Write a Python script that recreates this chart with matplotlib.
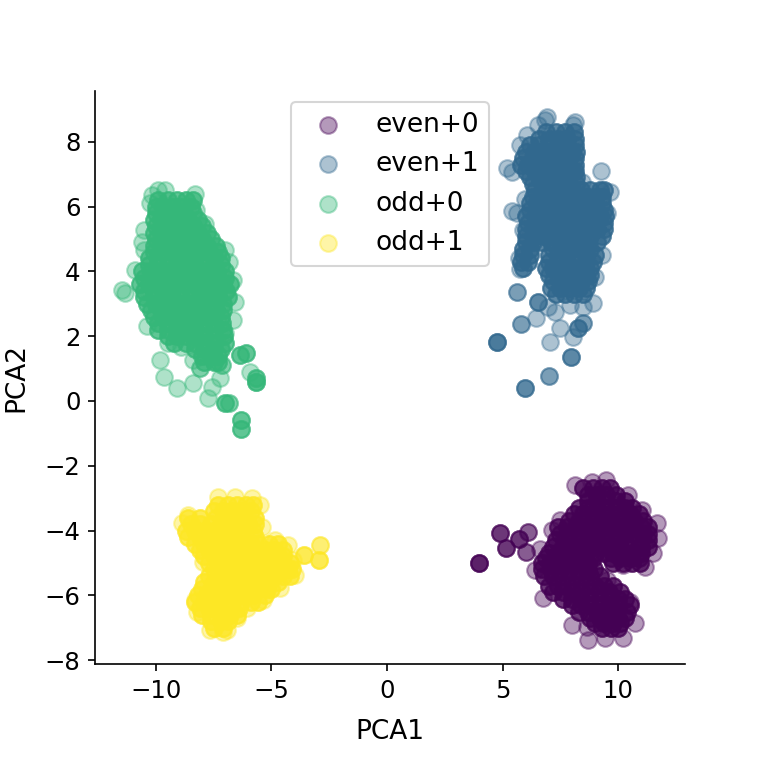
import numpy as np
import matplotlib
matplotlib.use("Agg")
import matplotlib.pyplot as plt

# Estimated positions. Dense interiors are recorded as rows of locations with an
# overplotting count, because individual points cannot be read where they overlap.
labels = ["even+0", "even+1", "odd+0", "odd+1"]
colors = ["#440154", "#31688e", "#35b779", "#fde725"]
core_count = 3

even0_rows_y = [-2.7, -2.9, -3.1, -3.3, -3.5, -3.7, -3.9, -4.1, -4.3, -4.5, -4.7, -4.85, -5.0,
                -5.2, -5.4, -5.7, -5.9, -6.1, -6.3, -6.5, -6.7, -6.85, -7.0]
even0_rows_x = [
    [8.5, 8.9, 9.3, 9.65],
    [8.7, 9.1, 9.5, 9.9],
    [8.7, 9.1, 9.5, 9.9, 10.3],
    [8.3, 8.7, 9.1, 9.5, 9.9, 10.3, 10.6],
    [8.1, 8.5, 8.9, 9.3, 9.7, 10.1, 10.5, 10.9],
    [7.9, 8.3, 8.7, 9.1, 9.5, 9.9, 10.3, 10.7, 11.1],
    [7.4, 7.8, 8.2, 8.6, 9.0, 9.4, 9.8, 10.2, 10.6, 11.0, 11.3],
    [7.5, 7.9, 8.3, 8.7, 9.1, 9.5, 9.9, 10.3, 10.7, 11.1, 11.3],
    [7.3, 7.7, 8.1, 8.5, 8.9, 9.3, 9.7, 10.1, 10.5, 10.9, 11.3],
    [7.2, 7.6, 8.0, 8.4, 8.8, 9.2, 9.6, 10.0, 10.4, 11.0, 11.3],
    [7.0, 7.4, 7.8, 8.2, 8.6, 9.0, 9.4, 9.8, 10.2, 10.6, 11.0],
    [6.9, 7.3, 7.7, 8.1, 8.5, 8.9, 9.7, 10.1, 10.5, 10.9],
    [6.7, 7.1, 7.5, 7.9, 8.3, 8.7, 9.8, 10.2, 10.6, 10.95],
    [6.7, 7.1, 7.5, 7.9, 8.3, 8.7, 8.95],
    [6.8, 7.2, 7.6, 8.0, 8.4, 8.8, 9.2],
    [7.0, 7.4, 7.8, 8.2, 8.6, 9.0, 9.4, 9.8],
    [7.2, 7.6, 8.0, 8.4, 8.8, 9.2, 9.6, 10.1],
    [7.6, 8.0, 8.4, 8.8, 9.2, 9.6, 10.0, 10.3],
    [8.0, 8.4, 8.8, 9.2, 9.6, 10.0, 10.5],
    [8.3, 8.7, 9.1, 9.5, 9.9, 10.4],
    [8.8, 9.2, 9.6, 10.0, 10.3],
    [9.0, 9.4, 9.8, 10.1],
    [9.3, 9.7, 10.0],
]
even0_x = [8.14, 8.86, 9.48, 10.45, 11.02, 11.67, 11.75, 11.53, 11.17, 10.23, 7.49, 7.13,
           6.62, 6.41, 6.77, 8.02, 8.72, 9.44, 10.23, 10.74, 10.52, 9.51, 8.64,
           4.0, 4.0, 4.0, 4.0, 4.89, 4.89, 4.89, 5.15, 5.15, 5.15, 5.73, 5.73, 5.73,
           6.12, 6.12, 6.0, 6.0]
even0_y = [-2.59, -2.49, -2.44, -2.9, -3.36, -3.78, -4.24, -4.7, -5.11, -5.06, -3.67, -3.98,
           -4.57, -5.22, -6.07, -6.91, -7.38, -7.33, -7.33, -6.86, -6.2, -5.53, -6.97,
           -4.99, -4.99, -4.99, -4.99, -4.09, -4.09, -4.09, -4.55, -4.55, -4.55, -4.26, -4.26, -4.26,
           -4.06, -4.06, -4.65, -4.65]

even1_rows_y = [8.3, 8.1, 7.9, 7.7, 7.5, 7.3, 7.1, 6.9, 6.7, 6.5, 6.3, 6.1, 5.9, 5.7, 5.5, 5.3,
                5.1, 4.9, 4.7, 4.5, 4.3, 4.1, 3.9, 3.7, 3.5, 3.3]
even1_rows_x = [
    [6.9, 7.3, 7.7, 8.1],
    [6.6, 7.0, 7.4, 7.8, 8.15],
    [6.2, 6.6, 7.0, 7.4, 7.8, 8.15],
    [6.0, 6.4, 6.8, 7.2, 7.6, 8.0, 8.2],
    [5.9, 6.3, 6.7, 7.1, 7.5, 7.9, 8.15],
    [5.8, 6.1, 6.5, 6.9, 7.3, 7.7, 8.15],
    [6.0, 6.4, 6.8, 7.2, 7.6, 8.0, 8.15],
    [6.2, 6.6, 7.0, 7.4, 7.8, 8.2],
    [6.3, 6.7, 7.1, 7.5, 7.9, 8.2],
    [6.4, 6.8, 7.2, 7.6, 8.0, 8.4, 8.8, 9.2, 9.4],
    [6.3, 6.7, 7.1, 7.5, 7.9, 8.3, 8.7, 9.05, 9.3],
    [6.2, 6.5, 6.9, 7.3, 7.7, 8.1, 8.5, 8.9, 9.3],
    [6.2, 6.6, 7.0, 7.4, 7.8, 8.2, 8.6, 9.0, 9.4],
    [6.0, 6.4, 6.8, 7.2, 7.6, 8.0, 8.4, 8.8, 9.2, 9.45],
    [6.1, 6.5, 6.9, 7.3, 7.7, 8.1, 8.5, 8.9, 9.4],
    [6.0, 6.3, 6.7, 7.1, 7.5, 7.9, 8.3, 8.7, 9.1, 9.4],
    [6.0, 6.4, 6.8, 7.2, 7.6, 8.0, 8.4, 8.8, 9.3],
    [6.0, 6.3, 6.7, 7.1, 7.5, 7.9, 8.3, 8.7, 9.1],
    [5.9, 6.2, 7.2, 7.6, 8.0, 8.4, 8.8],
    [5.9, 6.2, 7.0, 7.4, 7.8, 8.2, 8.6, 9.0],
    [5.8, 6.1, 7.0, 7.4, 7.8, 8.2, 8.6, 8.9],
    [5.9, 6.9, 7.2, 7.6, 8.0, 8.4, 8.8],
    [7.0, 7.4, 7.8, 8.2, 8.6, 8.8],
    [7.2, 7.6, 8.0, 8.4, 8.7],
    [7.1, 7.5, 7.9, 8.3, 8.6],
    [7.3, 7.7, 8.1, 8.5],
]
even1_x = [6.91, 6.84, 8.14, 8.07, 6.55, 6.05, 5.76, 5.18, 5.4, 9.26, 8.43, 9.65, 9.51, 5.4, 5.61,
           5.97, 5.9, 5.7, 5.76, 9.29, 9.0, 8.93, 8.5, 7.92, 7.27, 6.98, 6.44, 7.49, 7.06, 8.07,
           5.64, 5.64, 6.52, 6.52, 6.52, 5.8, 5.8, 4.78, 4.78, 4.78, 4.78, 8.28, 8.28, 8.28,
           8.5, 8.5, 7.95, 7.95, 7.95, 7.01, 7.01, 5.97, 5.97, 5.97]
even1_y = [8.78, 8.67, 8.62, 8.52, 8.52, 8.21, 7.9, 7.18, 7.08, 7.1, 6.77, 6.46, 5.79, 5.86, 5.79,
           6.25, 5.28, 4.4, 4.09, 4.5, 3.84, 3.01, 2.91, 2.96, 2.76, 2.91, 2.55, 2.24, 1.83, 1.98,
           3.37, 3.37, 3.07, 3.07, 3.07, 2.37, 2.37, 1.83, 1.83, 1.83, 1.83, 2.24, 2.24, 2.24,
           2.42, 2.42, 1.35, 1.35, 1.35, 0.77, 0.77, 0.39, 0.39, 0.39]

odd0_rows_y = [6.2, 6.0, 5.8, 5.6, 5.4, 5.2, 5.0, 4.8, 4.6, 4.4, 4.2, 4.0, 3.8, 3.6, 3.4, 3.2,
               3.0, 2.8, 2.6, 2.4, 2.2, 2.0, 1.8, 1.6, 1.4, 1.2]
odd0_rows_x = [
    [-9.9, -9.5, -9.1, -8.7, -8.4],
    [-10.0, -9.7, -9.3, -8.9, -8.5],
    [-10.0, -9.6, -9.2, -8.8, -8.4],
    [-10.1, -9.8, -9.4, -9.0, -8.6, -8.2],
    [-10.0, -9.6, -9.2, -8.8, -8.4, -8.0],
    [-10.1, -9.8, -9.4, -9.0, -8.6, -8.2, -7.8],
    [-10.0, -9.6, -9.2, -8.8, -8.4, -8.0, -7.6],
    [-10.1, -9.8, -9.4, -9.0, -8.6, -8.2, -7.8, -7.4],
    [-10.1, -9.7, -9.3, -8.9, -8.5, -8.1, -7.7, -7.3],
    [-10.3, -9.9, -9.5, -9.1, -8.7, -8.3, -7.9, -7.5, -7.2],
    [-10.3, -9.9, -9.5, -9.1, -8.7, -8.3, -7.9, -7.5, -7.2],
    [-10.6, -10.2, -9.8, -9.4, -9.0, -8.6, -8.2, -7.8, -7.4, -7.0],
    [-10.5, -10.1, -9.7, -9.3, -8.9, -8.5, -8.1, -7.7, -7.3, -7.0],
    [-10.7, -10.3, -9.9, -9.5, -9.1, -8.7, -8.3, -7.9, -7.5, -7.1, -6.8],
    [-10.5, -10.1, -9.7, -9.3, -8.9, -8.5, -8.1, -7.7, -7.3, -6.95],
    [-10.5, -10.1, -9.7, -9.3, -8.9, -8.5, -8.1, -7.7, -7.3, -6.9],
    [-10.4, -10.0, -9.6, -9.2, -8.8, -8.4, -8.0, -7.6, -7.1],
    [-10.2, -9.8, -9.4, -9.0, -8.6, -8.2, -7.8, -7.4, -7.1],
    [-10.1, -9.7, -9.3, -8.9, -8.5, -8.1, -7.7, -7.2],
    [-9.9, -9.5, -9.1, -8.7, -8.3, -7.9, -7.5, -7.15],
    [-9.9, -9.5, -9.1, -8.7, -8.3, -7.9, -7.5, -7.1],
    [-9.5, -9.1, -8.7, -8.3, -7.9, -7.5, -7.05],
    [-9.2, -8.7, -8.3, -7.9, -7.5, -7.0],
    [-8.3, -7.9, -7.5, -7.2],
    [-8.0, -7.6, -7.3],
    [-7.9, -7.5, -7.3],
]
odd0_x = [-9.9, -10.18, -9.6, -8.31, -10.25, -8.25, -7.87, -10.54, -10.6, -10.54, -7.0, -6.86,
          -6.65, -10.9, -11.48, -11.34, -6.58, -6.65, -10.4, -7.0, -9.46, -8.9, -9.82, -9.64,
          -9.07, -8.38, -7.73, -7.59, -7.23, -8.1, -8.1, -7.15, -7.15, -8.38, -5.93,
          -6.36, -6.36, -6.36, -6.1, -6.1, -6.1, -5.68, -5.68, -5.68, -5.68, -5.68, -5.68, -5.68,
          -7.0, -7.0, -7.0, -6.86, -6.86, -6.33, -6.33, -6.33, -6.32, -6.32, -6.32]
odd0_y = [6.5, 6.36, 6.5, 6.39, 6.1, 5.9, 5.46, 5.28, 4.92, 4.66, 4.66, 4.3,
          3.73, 4.04, 3.43, 3.32, 3.07, 2.5, 2.3, 2.09, 1.78, 1.68, 1.26, 0.75,
          0.39, 0.54, 0.08, 0.44, 0.7, 1.01, 1.01, 1.11, 1.11, 1.26, 0.9,
          1.42, 1.42, 1.42, 1.47, 1.47, 1.47, 0.6, 0.6, 0.6, 0.6, 0.7, 0.7, 0.7,
          -0.07, -0.07, -0.07, -0.07, -0.07, -0.59, -0.59, -0.59, -0.85, -0.85, -0.85]

odd1_rows_y = [-3.2, -3.4, -3.6, -3.8, -4.0, -4.2, -4.4, -4.6, -4.8, -5.0, -5.2, -5.4, -5.6,
               -5.8, -6.0, -6.2, -6.4, -6.6, -6.8, -7.0]
odd1_rows_x = [
    [-7.3, -6.9, -6.5, -6.1, -5.8],
    [-7.5, -7.1, -6.7, -6.3, -5.9],
    [-8.6, -8.1, -7.4, -7.0, -6.6, -6.2, -5.7],
    [-8.5, -8.1, -7.6, -7.2, -6.8, -6.4, -6.0, -5.7],
    [-8.7, -8.3, -7.9, -7.5, -7.1, -6.7, -6.3, -5.8],
    [-8.6, -8.1, -7.7, -7.3, -6.9, -6.5, -6.1, -5.7],
    [-8.3, -7.9, -7.5, -7.1, -6.7, -6.3, -5.9, -5.6, -5.1, -4.7],
    [-8.1, -7.7, -7.3, -6.9, -6.5, -6.1, -5.7, -5.3, -4.9, -4.5],
    [-7.9, -7.5, -7.1, -6.7, -6.3, -5.9, -5.5, -5.1, -4.7, -4.5],
    [-7.7, -7.3, -6.9, -6.5, -6.1, -5.7, -5.3, -4.9, -4.5, -4.2],
    [-7.5, -7.1, -6.7, -6.3, -5.9, -5.5, -5.1, -4.7, -4.3, -4.1],
    [-7.7, -7.3, -6.9, -6.5, -6.1, -5.7, -5.3, -4.9, -4.5, -4.2],
    [-7.9, -7.5, -7.1, -6.7, -6.3, -5.9, -5.5, -5.1, -4.7],
    [-8.0, -7.6, -7.2, -6.8, -6.4, -6.0, -5.6, -5.2, -5.0],
    [-8.2, -7.8, -7.4, -7.0, -6.6, -6.2, -5.8, -5.3],
    [-8.3, -7.9, -7.5, -7.1, -6.7, -6.3, -5.9, -5.6],
    [-8.1, -7.7, -7.3, -6.9, -6.4],
    [-8.0, -7.6, -7.2, -6.8, -6.5],
    [-7.6, -7.2, -6.9],
    [-7.5, -7.1],
]
odd1_x = [-8.89, -8.6, -7.3, -6.58, -5.86, -5.5, -5.43, -4.85, -4.27, -4.06, -3.99, -4.63, -5.36,
          -6.08, -6.51, -8.3, -8.24, -7.67, -7.09, -6.94, -7.95,
          -3.6, -3.6, -3.6, -2.9, -2.9, -2.93, -2.93, -2.93]
odd1_y = [-3.78, -3.52, -2.95, -2.95, -3.0, -3.21, -3.88, -4.29, -4.45, -4.91, -5.37, -5.78, -6.14,
          -6.4, -6.71, -6.14, -6.5, -7.07, -7.12, -7.07, -4.96,
          -4.76, -4.76, -4.76, -4.45, -4.45, -4.91, -4.91, -4.91]

groups = [
    (even0_rows_y, even0_rows_x, even0_x, even0_y),
    (even1_rows_y, even1_rows_x, even1_x, even1_y),
    (odd0_rows_y, odd0_rows_x, odd0_x, odd0_y),
    (odd1_rows_y, odd1_rows_x, odd1_x, odd1_y),
]

fig = plt.figure(figsize=(761 / 150, 761 / 150), dpi=150)
ax = fig.add_axes([95 / 761, 97 / 761, 590 / 761, 573 / 761])

for (rows_y, rows_x, px, py), label, color in zip(groups, labels, colors):
    cx = np.concatenate([np.array(r, dtype=float) for r in rows_x])
    cy = np.concatenate([np.full(len(r), y) for r, y in zip(rows_x, rows_y)])
    xs = np.concatenate([np.repeat(cx, core_count), px])
    ys = np.concatenate([np.repeat(cy, core_count), py])
    ax.scatter(xs, ys, s=64, linewidths=1, color=color, alpha=0.4, label=label)

ax.set_xlim(-12.64, 12.9)
ax.set_ylim(-8.12, 9.57)
ax.set_xticks([-10, -5, 0, 5, 10])
ax.set_yticks([-8, -6, -4, -2, 0, 2, 4, 6, 8])
ax.tick_params(labelsize=11.7)
ax.set_xlabel("PCA1", fontsize=12.7, labelpad=8)
ax.set_ylabel("PCA2", fontsize=12.7, labelpad=7.5)
ax.spines["top"].set_visible(False)
ax.spines["right"].set_visible(False)
ax.legend(loc="upper center", fontsize=12.7, borderaxespad=0.4)

fig.savefig("out.png", dpi=150)
